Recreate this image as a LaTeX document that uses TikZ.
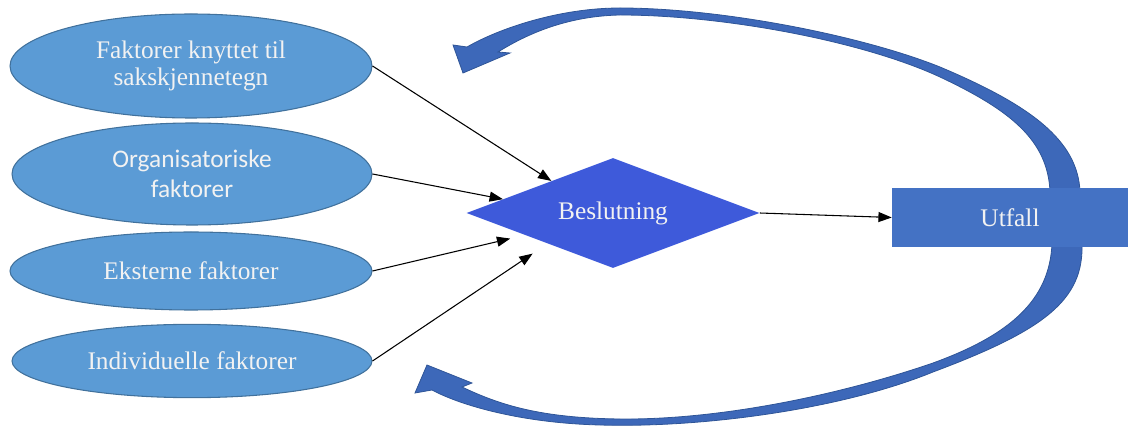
\documentclass[tikz,border=0pt]{standalone}
\usepackage{fontspec}
\setmainfont{Liberation Serif}
\newfontfamily\calfont{Carlito}
\usetikzlibrary{shapes.geometric,arrows.meta,calc}
\definecolor{ellblue}{RGB}{91,155,213}
\definecolor{ellline}{RGB}{65,113,156}
\definecolor{diablue}{RGB}{62,90,218}
\definecolor{boxblue}{RGB}{68,114,196}
\definecolor{bandblue}{RGB}{61,104,185}
\definecolor{bandline}{RGB}{47,85,151}
\definecolor{txt}{RGB}{242,242,242}

\begin{document}
\begin{tikzpicture}[x=0.75pt,y=-0.75pt]
      \tikzstyle{factor}=[ellipse,draw=ellline,line width=0.8pt,fill=ellblue,text=txt,align=center,inner sep=0pt,font=\fontsize{19}{20.5}\selectfont]
      \tikzstyle{decision}=[diamond,aspect=2.66,fill=diablue,text=txt,inner sep=0pt,minimum width=219.75pt,minimum height=82.5pt,font=\fontsize{19}{22}\selectfont]
      \tikzstyle{outcome}=[rectangle,fill=boxblue,text=txt,inner sep=0pt,minimum width=177pt,minimum height=44.25pt,font=\fontsize{19}{22}\selectfont]
      \tikzstyle{link}=[-{Triangle[length=10pt,width=7.5pt]},line width=0.8pt]
      \tikzstyle{band}=[fill=bandblue,draw=bandline,line width=0.6pt,line join=miter]
      \useasboundingbox (0,0) rectangle (1128,427);
      % feedback, top
      \draw[band] (1050,192) -- (1080,192)
        .. controls (1078,140) and (1030,105) .. (940,67)
        .. controls (860,35) and (720,8) .. (620,8)
        .. controls (560,8) and (500,28) .. (467,47)
        -- (453,45) -- (463,73) -- (510,53) -- (498,52)
        .. controls (530,32) and (570,16) .. (620,15)
        .. controls (720,15) and (860,40) .. (940,77)
        .. controls (1010,110) and (1048,140) .. (1050,192)
        -- cycle;
      % feedback, bottom
      \draw[band] (1052,243) -- (1082,243)
        .. controls (1084,300) and (1045,330) .. (933,372)
        .. controls (840,410) and (700,428) .. (600,425)
        .. controls (520,423) and (460,405) .. (432,390)
        -- (415,393) -- (427,365) -- (472,383) -- (462,387)
        .. controls (500,405) and (540,418) .. (620,419)
        .. controls (720,420) and (840,395) .. (933,363)
        .. controls (1010,335) and (1050,300) .. (1052,243)
        -- cycle;
      % factors
      \node[factor,minimum width=271.5pt,minimum height=78pt] (e1) at (191,66) {Faktorer knyttet til\\sakskjennetegn};
      \node[factor,minimum width=270pt,minimum height=76.5pt,font=\calfont\fontsize{19}{22.5}\selectfont] (e2) at (192,174) {Organisatoriske\\faktorer};
      \node[factor,minimum width=271.5pt,minimum height=58.5pt] (e3) at (191,271) {Eksterne faktorer};
      \node[factor,minimum width=270pt,minimum height=55pt] (e4) at (192,361) {Individuelle faktorer};
      \node[decision] (d) at (613,213) {Beslutning};
      \node[outcome] (u) at (1010,217.5) {Utfall};
      \draw[link] (e1.east) -- ($(d.west)!0.58!(d.north)$);
      \draw[link] (e2.east) -- ($(d.west)!0.25!(d.north)$);
      \draw[link] (e3.east) -- ($(d.west)!0.3!(d.south)+(0,9)$);
      \draw[link] (e4.east) -- ($(d.south west)+(-7,13)$);
      \draw[link] (d.east) -- (u.west);
\end{tikzpicture}
\end{document}
